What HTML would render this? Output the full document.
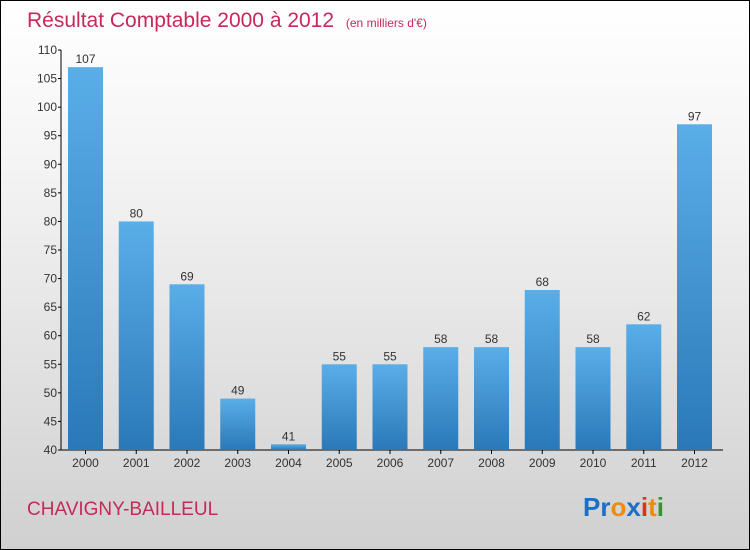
<!DOCTYPE html>
<html><head><meta charset="utf-8"><style>
body{margin:0}
#c{position:relative;width:748px;height:548px;border:1px solid #000;background:linear-gradient(#ffffff,#f4f4f4 30%,#d0d0d0);font-family:"Liberation Sans",sans-serif;overflow:hidden}
</style></head><body>
<div id="c">
<svg width="748" height="548">
<defs><linearGradient id="bg" x1="0" y1="0" x2="0" y2="1"><stop offset="0" stop-color="#5aaee8"/><stop offset="1" stop-color="#2a78b8"/></linearGradient></defs>
<text x="26" y="26" font-size="21" fill="#c8285a">Résultat Comptable 2000 à 2012 <tspan font-size="12" dx="6">(en milliers d'€)</tspan></text>
<text x="26" y="514" font-size="19" fill="#c8285a">CHAVIGNY-BAILLEUL</text>
<text x="582" y="515" font-size="26" font-weight="bold"><tspan fill="#1a6fc8">Pr</tspan><tspan fill="#f08a10">o</tspan><tspan fill="#1a6fc8">x</tspan><tspan fill="#e03020">i</tspan><tspan fill="#f08a10">t</tspan><tspan fill="#2a9a30">i</tspan></text>
<g id="g"></g>
</svg></div>
<script>
const categories=["2000","2001","2002","2003","2004","2005","2006","2007","2008","2009","2010","2011","2012"];
const values=[107,80,69,49,41,55,55,58,58,68,58,62,97];
const yTicks=[40,45,50,55,60,65,70,75,80,85,90,95,100,105,110];
const ns="http://www.w3.org/2000/svg",g=document.getElementById('g');
const y=v=>449-(v-40)*400/70, x=i=>67+i*50.75;
function mk(t,a){const e=document.createElementNS(ns,t);for(const k in a)e.setAttribute(k,a[k]);g.appendChild(e);return e;}
let ax=mk('line',{x1:60,y1:49,x2:60,y2:449,stroke:'#000'});

let bx=mk('line',{x1:60,y1:449,x2:722,y2:449,stroke:'#000'});

yTicks.forEach(v=>{let t=mk('line',{x1:57,x2:60,y1:y(v),y2:y(v),stroke:'#000'});

let l=mk('text',{x:56,y:y(v)+4,'font-size':12,'text-anchor':'end',fill:'#333'});l.textContent=v;
});
categories.forEach((c,i)=>{const v=values[i];
let r=mk('rect',{x:x(i),y:y(v),width:35,height:449-y(v),fill:'url(#bg)'});

let vl=mk('text',{x:x(i)+17.5,y:y(v)-4,'font-size':12,'text-anchor':'middle',fill:'#333'});vl.textContent=v;

let t=mk('line',{x1:x(i)+17.5,x2:x(i)+17.5,y1:449,y2:453,stroke:'#000'});

let xl=mk('text',{x:x(i)+17.5,y:466,'font-size':12,'text-anchor':'middle',fill:'#333'});xl.textContent=c;
});
</script></body></html>
